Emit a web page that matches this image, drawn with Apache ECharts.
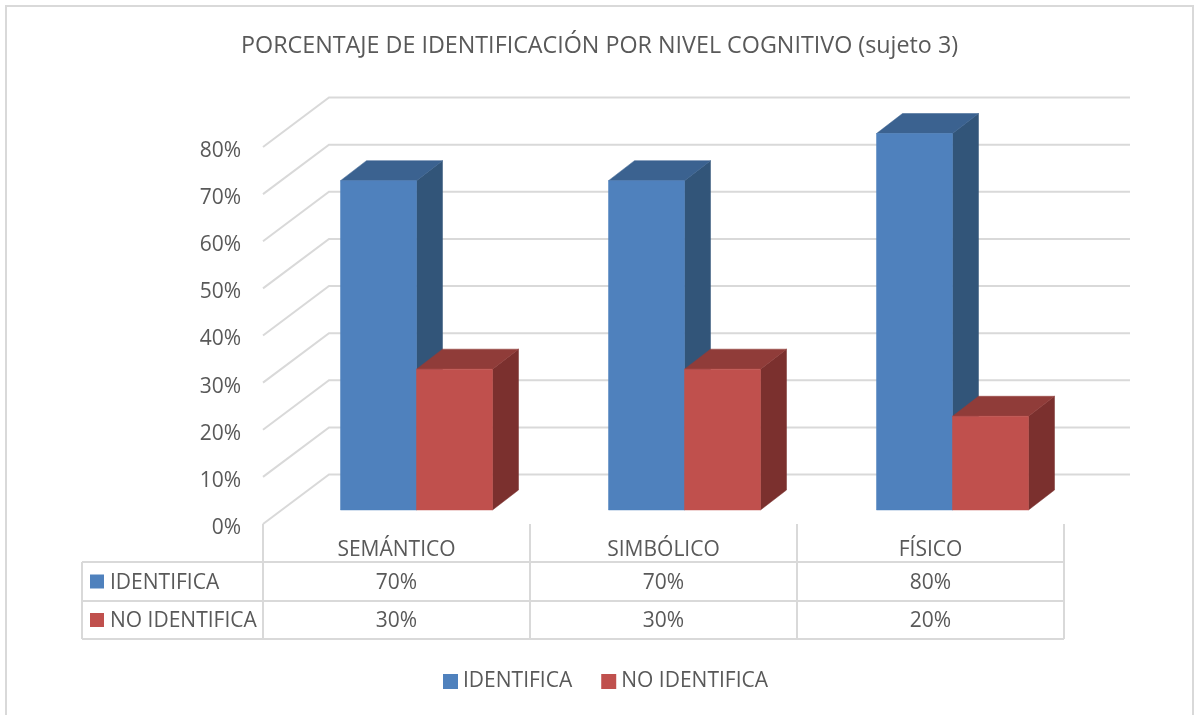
<!DOCTYPE html>
<html>
<head>
<meta charset="utf-8">
<style>html,body{margin:0;padding:0;background:#fff}#c{width:1195px;height:715px}</style>
<script src="https://cdn.jsdelivr.net/npm/echarts@6/dist/echarts.min.js"></script>
</head>
<body>
<div id="c"></div>
<script>
const titleText = 'PORCENTAJE DE IDENTIFICACIÓN POR NIVEL COGNITIVO (sujeto 3)';
const categories = ['SEMÁNTICO', 'SIMBÓLICO', 'FÍSICO'];
const identifica = [70, 70, 80];
const noIdentifica = [30, 30, 20];
const yTicks = [0, 10, 20, 30, 40, 50, 60, 70, 80];
const seriesNames = ['IDENTIFICA', 'NO IDENTIFICA'];

const FONT = '"Open Sans", "Noto Sans", sans-serif';
const TEXT = '#595959', LINE = '#d9d9d9';
const WALL = [66, -49.5], BAR_FLOOR = [20, -14], BAR_DEPTH = [26, -20], BAR_W = 76, BAR_STEP_EXTRA = 1;
const GRID = {left: 263, top: 147, width: 801, height: 377};
const ROWS = [562, 601, 639];
const TABLE_LEFT = 82;

const shades = [
  {front: '#4f81bd', side: '#325579', top: '#3b6290'},
  {front: '#c0504d', side: '#7b302e', top: '#903c39'}
];

function barRenderer(slot) {
  const s = shades[slot];
  return function (params, api) {
    const base = api.coord([api.value(0), 0]);
    const tip = api.coord([api.value(0), api.value(1)]);
    const xl = base[0] + BAR_FLOOR[0] + (slot - 1) * BAR_W + api.value(0) * BAR_STEP_EXTRA, xr = xl + BAR_W;
    const yb = base[1] + BAR_FLOOR[1], yt = tip[1] + BAR_FLOOR[1] + 0.5;
    const dx = BAR_DEPTH[0], dy = BAR_DEPTH[1];
    const poly = (pts, fill) => ({type: 'polygon', shape: {points: pts},
      style: {fill: fill, stroke: fill, lineWidth: 0.5}});
    return {type: 'group', children: [
      poly([[xr, yb], [xr + dx, yb + dy], [xr + dx, yt + dy], [xr, yt]], s.side),
      poly([[xl, yt], [xl + dx, yt + dy], [xr + dx, yt + dy], [xr, yt]], s.top),
      poly([[xl, yb], [xr, yb], [xr, yt], [xl, yt]], s.front)
    ]};
  };
}

function wallRenderer(params, api) {
  const p = api.coord([0, api.value(0)]);
  const x0 = GRID.left, y0 = p[1];
  return {type: 'polyline', shape: {points: [[x0, y0], [x0 + WALL[0], y0 + WALL[1]], [x0 + GRID.width + WALL[0], y0 + WALL[1]]]},
    style: {fill: 'none', stroke: LINE, lineWidth: 2}};
}

function tableRenderer(params, api) {
  const c = api.coord([api.value(0), 0]);
  const mk = (val, r) => ({type: 'text', x: c[0], y: (ROWS[r] + ROWS[r + 1]) / 2 + 1.5,
    style: {text: val + '%', fill: TEXT, font: '21px ' + FONT, align: 'center', verticalAlign: 'middle'}});
  return {type: 'group', children: [mk(api.value(1), 0), mk(api.value(2), 1)]};
}

const line = (x1, y1, x2, y2, w) => ({type: 'line', silent: true,
  shape: {x1, y1, x2, y2}, style: {stroke: LINE, lineWidth: w || 2}});

const graphics = [
  {type: 'rect', silent: true, shape: {x: 6, y: 6, width: 1187, height: 720},
    style: {fill: 'none', stroke: LINE, lineWidth: 2}},
  line(TABLE_LEFT, ROWS[0], GRID.left + GRID.width, ROWS[0]),
  line(TABLE_LEFT, ROWS[1], GRID.left + GRID.width, ROWS[1]),
  line(TABLE_LEFT, ROWS[2], GRID.left + GRID.width, ROWS[2]),
  line(TABLE_LEFT, ROWS[0], TABLE_LEFT, ROWS[2]),
  ...[0, 1, 2, 3].map(i => line(GRID.left + i * GRID.width / 3, ROWS[0], GRID.left + i * GRID.width / 3, ROWS[2]))
];
seriesNames.forEach((n, r) => {
  const yc = (ROWS[r] + ROWS[r + 1]) / 2;
  graphics.push({type: 'rect', silent: true, shape: {x: 90, y: yc - 7, width: 14, height: 14},
    style: {fill: shades[r].front}});
  graphics.push({type: 'text', silent: true, x: 110, y: yc + 1.5, z: 5,
    style: {text: n, fill: TEXT, font: '21px ' + FONT, align: 'left', verticalAlign: 'middle'}});
});

const chart = echarts.init(document.getElementById('c'), null, {renderer: 'canvas'});
chart.setOption({
  animation: false,
  backgroundColor: '#fff',
  title: {text: titleText, left: 236, top: 30,
    textStyle: {color: TEXT, fontFamily: FONT, fontWeight: 'normal', fontSize: 23.3}},
  legend: {data: seriesNames.map((n, i) => ({name: n, itemStyle: {color: shades[i].front}})),
    left: 443, top: 671, padding: 0, icon: 'rect', itemWidth: 15, itemHeight: 15, itemGap: 29, selectedMode: false,
    textStyle: {color: TEXT, fontFamily: FONT, fontSize: 21}},
  grid: GRID,
  xAxis: {type: 'category', data: categories, boundaryGap: true,
    axisLine: {show: false},
    axisTick: {show: true, length: 38, lineStyle: {color: LINE, width: 2}},
    axisLabel: {color: TEXT, fontFamily: FONT, fontSize: 21, margin: 16}},
  yAxis: {type: 'value', min: 0, max: 80, interval: 10,
    axisLine: {show: false}, axisTick: {show: false}, splitLine: {show: false},
    axisLabel: {color: TEXT, fontFamily: FONT, fontSize: 21, margin: 22, verticalAlign: 'top', lineHeight: 8, formatter: '{value}%'}},
  tooltip: {show: false},
  graphic: graphics,
  series: [
    {type: 'custom', name: 'walls', silent: true, z: 1, renderItem: wallRenderer,
      data: yTicks.map(v => [v]), encode: {y: 0}, clip: false},
    {type: 'custom', name: seriesNames[0], z: 2, renderItem: barRenderer(0), clip: false,
      itemStyle: {color: shades[0].front},
      data: identifica.map((v, i) => [i, v]), encode: {x: 0, y: 1}},
    {type: 'custom', name: seriesNames[1], z: 3, renderItem: barRenderer(1), clip: false,
      itemStyle: {color: shades[1].front},
      data: noIdentifica.map((v, i) => [i, v]), encode: {x: 0, y: 1}},
    {type: 'custom', name: 'tabla', silent: true, z: 4, renderItem: tableRenderer, clip: false,
      data: categories.map((c, i) => [i, identifica[i], noIdentifica[i]]), encode: {x: 0}}
  ]
});
</script>
</body>
</html>
